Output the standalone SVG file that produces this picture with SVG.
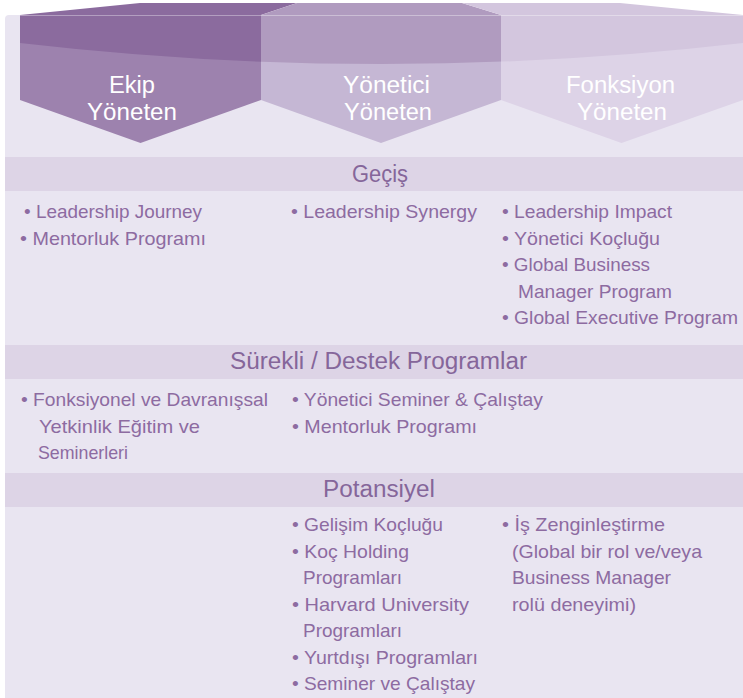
<svg xmlns="http://www.w3.org/2000/svg" width="743" height="698" viewBox="0 0 743 698">
<style>
.panel{fill:#e9e5f1}
.band{fill:#ddd4e6}
.hd{font-family:"Liberation Sans",Arial,sans-serif;font-size:23px;fill:#85669a}
.tx{font-family:"Liberation Sans",Arial,sans-serif;font-size:19px;fill:#8d6ba1}
.lbl{font-family:"Liberation Sans",Arial,sans-serif;font-size:23px;fill:#ffffff}
.edge{stroke:#ffffff;stroke-opacity:0.35;stroke-width:1;fill:none}
</style>
<defs>
<clipPath id="upper"><path d="M0,0 H743 V43 Q381,85 20,43 L0,43 Z"/></clipPath>
</defs>
<rect x="0" y="0" width="743" height="698" fill="#ffffff"/>
<rect class="panel" x="5" y="15" width="745" height="690" rx="4"/>

<g id="col-ekip">
<polygon points="20,15 140,3 297,3 261,15" fill="#8b6b9e"/>
<polygon points="20,15 261,15 261,100 140.5,143 20,100" fill="#9d82ae"/>
<rect x="20" y="15" width="241" height="60" fill="#8b6b9e" clip-path="url(#upper)"/>
<text class="lbl" x="109" y="93" textLength="46" lengthAdjust="spacingAndGlyphs">Ekip</text>
<text class="lbl" x="87" y="120" textLength="90" lengthAdjust="spacingAndGlyphs">Yöneten</text>
</g>
<g id="col-yonetici">
<polygon points="261,15 297,3 462,3 501,15" fill="#b09bbf"/>
<polygon points="261,15 501,15 501,100 381,143 261,100" fill="#c5b7d4"/>
<rect x="261" y="15" width="240" height="60" fill="#b09bbf" clip-path="url(#upper)"/>
<text class="lbl" x="343" y="93" textLength="87" lengthAdjust="spacingAndGlyphs">Yönetici</text>
<text class="lbl" x="344" y="120" textLength="88" lengthAdjust="spacingAndGlyphs">Yöneten</text>
</g>
<g id="col-fonksiyon">
<polygon points="501,15 462,3 620,3 743,15" fill="#d3c6de"/>
<polygon points="501,15 743,15 743,100 621.5,143 501,100" fill="#ddd3e7"/>
<rect x="501" y="15" width="242" height="60" fill="#d3c6de" clip-path="url(#upper)"/>
<text class="lbl" x="566" y="93" textLength="109" lengthAdjust="spacingAndGlyphs">Fonksiyon</text>
<text class="lbl" x="577" y="120" textLength="90" lengthAdjust="spacingAndGlyphs">Yöneten</text>
</g>
<line class="edge" x1="20" y1="15.5" x2="743" y2="15.5"/>

<g id="gecis">
<rect class="band" x="5" y="157" width="738" height="34"/>
<text class="hd" x="352" y="182" textLength="56" lengthAdjust="spacingAndGlyphs">Geçiş</text>
<text class="tx" x="24" y="218" textLength="178" lengthAdjust="spacingAndGlyphs">• Leadership Journey</text>
<text class="tx" x="20" y="244.5" textLength="186" lengthAdjust="spacingAndGlyphs">• Mentorluk Programı</text>
<text class="tx" x="291" y="218" textLength="186" lengthAdjust="spacingAndGlyphs">• Leadership Synergy</text>
<text class="tx" x="502" y="218" textLength="170" lengthAdjust="spacingAndGlyphs">• Leadership Impact</text>
<text class="tx" x="502" y="244.5" textLength="158" lengthAdjust="spacingAndGlyphs">• Yönetici Koçluğu</text>
<text class="tx" x="502" y="271" textLength="148" lengthAdjust="spacingAndGlyphs">• Global Business</text>
<text class="tx" x="518" y="297.5" textLength="154" lengthAdjust="spacingAndGlyphs">Manager Program</text>
<text class="tx" x="502" y="324" textLength="236" lengthAdjust="spacingAndGlyphs">• Global Executive Program</text>
</g>

<g id="surekli">
<rect class="band" x="5" y="345" width="738" height="34"/>
<text class="hd" x="230" y="369" textLength="297" lengthAdjust="spacingAndGlyphs">Sürekli / Destek Programlar</text>
<text class="tx" x="21" y="406" textLength="247" lengthAdjust="spacingAndGlyphs">• Fonksiyonel ve Davranışsal</text>
<text class="tx" x="39" y="432.5" textLength="161" lengthAdjust="spacingAndGlyphs">Yetkinlik Eğitim ve</text>
<text class="tx" x="38" y="459" textLength="90" lengthAdjust="spacingAndGlyphs">Seminerleri</text>
<text class="tx" x="292" y="406" textLength="251" lengthAdjust="spacingAndGlyphs">• Yönetici Seminer &amp; Çalıştay</text>
<text class="tx" x="292" y="432.5" textLength="185" lengthAdjust="spacingAndGlyphs">• Mentorluk Programı</text>
</g>

<g id="potansiyel">
<rect class="band" x="5" y="473" width="738" height="34"/>
<text class="hd" x="323" y="497" textLength="112" lengthAdjust="spacingAndGlyphs">Potansiyel</text>
<text class="tx" x="292" y="531" textLength="151" lengthAdjust="spacingAndGlyphs">• Gelişim Koçluğu</text>
<text class="tx" x="292" y="557.5" textLength="117" lengthAdjust="spacingAndGlyphs">• Koç Holding</text>
<text class="tx" x="303" y="584" textLength="99" lengthAdjust="spacingAndGlyphs">Programları</text>
<text class="tx" x="292" y="610.5" textLength="177" lengthAdjust="spacingAndGlyphs">• Harvard University</text>
<text class="tx" x="303" y="637" textLength="99" lengthAdjust="spacingAndGlyphs">Programları</text>
<text class="tx" x="292" y="663.5" textLength="186" lengthAdjust="spacingAndGlyphs">• Yurtdışı Programları</text>
<text class="tx" x="292" y="690" textLength="183" lengthAdjust="spacingAndGlyphs">• Seminer ve Çalıştay</text>
<text class="tx" x="502" y="531" textLength="163" lengthAdjust="spacingAndGlyphs">• İş Zenginleştirme</text>
<text class="tx" x="512" y="557.5" textLength="190" lengthAdjust="spacingAndGlyphs">(Global bir rol ve/veya</text>
<text class="tx" x="512" y="584" textLength="159" lengthAdjust="spacingAndGlyphs">Business Manager</text>
<text class="tx" x="512" y="610.5" textLength="124" lengthAdjust="spacingAndGlyphs">rolü deneyimi)</text>
</g>
<g id="connectors"/>
</svg>
